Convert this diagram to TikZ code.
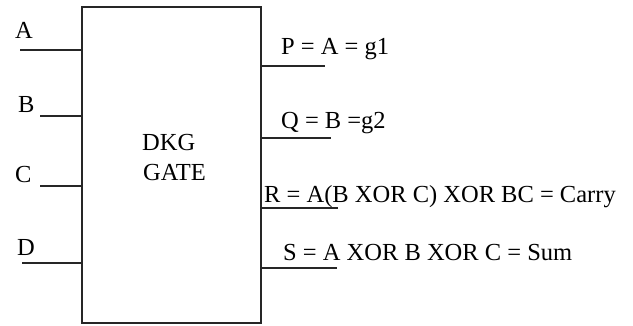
\documentclass[tikz,border=0pt]{standalone}
\usepackage{fontspec}
\setmainfont{Liberation Serif}
\begin{document}
\begin{tikzpicture}[x=1pt,y=-1pt,
  wire/.style={line width=1.6pt,color=black!85},
  lbl/.style={inner sep=0pt,anchor=base west,font=\fontsize{24.5}{30}\selectfont}]
\useasboundingbox (0,0) rectangle (633,325);
\node[draw=black!85,line width=1.8pt,minimum width=179pt,minimum height=316pt,inner sep=0pt,anchor=north west] (box) at (81,6) {};
% inputs
\coordinate (ia) at (20,50);
\coordinate (ib) at (40,116);
\coordinate (ic) at (40,186);
\coordinate (id) at (22,263);
\draw[wire] (ia) -- (ia -| box.west);
\draw[wire] (ib) -- (ib -| box.west);
\draw[wire] (ic) -- (ic -| box.west);
\draw[wire] (id) -- (id -| box.west);
\node[lbl] (la) at (15,38) {A};
\node[lbl] (lb) at (18,112) {B};
\node[lbl] (lc) at (15,182) {C};
\node[lbl] (ld) at (17,255) {D};
% gate name
\node[lbl] (dkg) at (142,150) {DKG};
\node[lbl] (gate) at (143,180) {GATE};
% outputs
\coordinate (op) at (325,66);
\coordinate (oq) at (331,138);
\coordinate (or) at (338,208);
\coordinate (os) at (337,268);
\draw[wire] (op -| box.east) -- (op);
\draw[wire] (oq -| box.east) -- (oq);
\draw[wire] (or -| box.east) -- (or);
\draw[wire] (os -| box.east) -- (os);
\node[lbl] (lp) at (281,54) {P = A = g1};
\node[lbl] (lq) at (281,128) {Q = B =g2};
\node[lbl] (lr) at (264,202) {R = A(B XOR C) XOR BC = Carry};
\node[lbl] (ls) at (283,260) {S = A XOR B XOR C = Sum};
\end{tikzpicture}
\end{document}
